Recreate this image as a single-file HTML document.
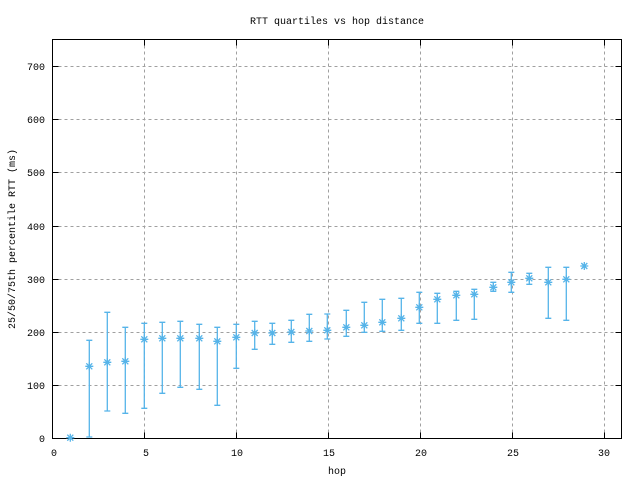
<!DOCTYPE html>
<html><head><style>
body{margin:0;background:#fff}
svg{display:block}
text{font-family:"Liberation Mono","DejaVu Sans Mono",monospace;font-size:10px;fill:#000}
</style></head><body>
<svg width="640" height="480" viewBox="0 0 640 480" xmlns="http://www.w3.org/2000/svg">
<defs><path id="m" d="M-4,0h8M0,-4v8M-3,-3l6,6M-3,3l6,-6" stroke="#56b4e9" stroke-width="1.3" fill="none"/></defs>
<rect width="640" height="480" fill="#fff"/>
<g stroke="#a0a0a0" stroke-width="1" stroke-dasharray="3,3" fill="none">
<path d="M144.5,39.5V438.5M236.5,39.5V438.5M328.5,39.5V438.5M420.5,39.5V438.5M512.5,39.5V438.5M604.5,39.5V438.5"/>
<path d="M52.5,385.5H621.5M52.5,332.5H621.5M52.5,279.5H621.5M52.5,226.5H621.5M52.5,172.5H621.5M52.5,119.5H621.5M52.5,66.5H621.5"/>
</g>
<g stroke="#000" stroke-width="1" fill="none">
<rect x="52.5" y="39.5" width="569" height="399"/>
<path d="M144.5,438.5v-6M236.5,438.5v-6M328.5,438.5v-6M420.5,438.5v-6M512.5,438.5v-6M604.5,438.5v-6M144.5,39.5v6M236.5,39.5v6M328.5,39.5v6M420.5,39.5v6M512.5,39.5v6M604.5,39.5v6"/>
<path d="M52.5,385.5h6M52.5,332.5h6M52.5,279.5h6M52.5,226.5h6M52.5,172.5h6M52.5,119.5h6M52.5,66.5h6M621.5,385.5h-6M621.5,332.5h-6M621.5,279.5h-6M621.5,226.5h-6M621.5,172.5h-6M621.5,119.5h-6M621.5,66.5h-6"/>
</g>
<g text-anchor="end">
<text x="45" y="442">0</text><text x="45" y="389">100</text><text x="45" y="336">200</text><text x="45" y="283">300</text><text x="45" y="230">400</text><text x="45" y="176">500</text><text x="45" y="123">600</text><text x="45" y="70">700</text>
</g>
<g text-anchor="middle">
<text x="54" y="456">0</text><text x="146" y="456">5</text><text x="237" y="456">10</text><text x="329" y="456">15</text><text x="421" y="456">20</text><text x="513" y="456">25</text><text x="604" y="456">30</text>
<text x="337" y="474">hop</text>
<text x="337" y="24">RTT quartiles vs hop distance</text>
<text transform="translate(15,239) rotate(-90)">25/50/75th percentile RTT (ms)</text>
</g>
<path stroke="#56b4e9" stroke-width="1.3" fill="none" d="
M89.3,340.3V437M86.3,340.3h6M86.3,437h6
M107.3,312.3V411M104.3,312.3h6M104.3,411h6
M125.3,327.3V413.3M122.3,327.3h6M122.3,413.3h6
M144.3,323.3V408.3M141.3,323.3h6M141.3,408.3h6
M162.3,322.3V393.3M159.3,322.3h6M159.3,393.3h6
M180.3,321.3V387.3M177.3,321.3h6M177.3,387.3h6
M199.3,324.3V389.3M196.3,324.3h6M196.3,389.3h6
M217.3,327.3V405.3M214.3,327.3h6M214.3,405.3h6
M236.3,324.3V368.3M233.3,324.3h6M233.3,368.3h6
M254.7,321.3V349.3M251.7,321.3h6M251.7,349.3h6
M272.3,323.3V344.3M269.3,323.3h6M269.3,344.3h6
M291.3,320.3V342.3M288.3,320.3h6M288.3,342.3h6
M309.3,314.3V341.3M306.3,314.3h6M306.3,341.3h6
M327.3,314V339M324.3,314h6M324.3,339h6
M346.3,310.3V336.3M343.3,310.3h6M343.3,336.3h6
M364.3,302.3V332.3M361.3,302.3h6M361.3,332.3h6
M382.3,299.3V331.3M379.3,299.3h6M379.3,331.3h6
M401.3,298.3V330.3M398.3,298.3h6M398.3,330.3h6
M419.3,292.3V323.3M416.3,292.3h6M416.3,323.3h6
M437.3,293.3V323.3M434.3,293.3h6M434.3,323.3h6
M456.3,291.3V320.3M453.3,291.3h6M453.3,320.3h6
M474.3,289.3V319.3M471.3,289.3h6M471.3,319.3h6
M493.3,282.3V291.3M490.3,282.3h6M490.3,291.3h6
M511.3,272.3V292.3M508.3,272.3h6M508.3,292.3h6
M529.3,273.3V284.3M526.3,273.3h6M526.3,284.3h6
M548.3,267.3V318.3M545.3,267.3h6M545.3,318.3h6
M566.3,267.3V320.3M563.3,267.3h6M563.3,320.3h6"/>
<use href="#m" x="70.3" y="437.7"/>
<use href="#m" x="89.3" y="366.3"/>
<use href="#m" x="107.3" y="362.3"/>
<use href="#m" x="125.3" y="361.3"/>
<use href="#m" x="144.3" y="339.3"/>
<use href="#m" x="162.3" y="338.3"/>
<use href="#m" x="180.3" y="338.3"/>
<use href="#m" x="199.3" y="338.3"/>
<use href="#m" x="217.3" y="341.3"/>
<use href="#m" x="236.3" y="337.3"/>
<use href="#m" x="254.7" y="333"/>
<use href="#m" x="272.3" y="333"/>
<use href="#m" x="291.3" y="332"/>
<use href="#m" x="309.3" y="331"/>
<use href="#m" x="327.3" y="330.3"/>
<use href="#m" x="346.3" y="327.3"/>
<use href="#m" x="364.3" y="325.3"/>
<use href="#m" x="382.3" y="322.3"/>
<use href="#m" x="401.3" y="318.3"/>
<use href="#m" x="419.3" y="307.3"/>
<use href="#m" x="437.3" y="299.3"/>
<use href="#m" x="456.3" y="295.3"/>
<use href="#m" x="474.3" y="294.3"/>
<use href="#m" x="493.3" y="287.3"/>
<use href="#m" x="511.3" y="282.3"/>
<use href="#m" x="529.3" y="278.3"/>
<use href="#m" x="548.3" y="282.3"/>
<use href="#m" x="566.3" y="279.3"/>
<use href="#m" x="584.3" y="266"/>
</svg>
</body></html>
